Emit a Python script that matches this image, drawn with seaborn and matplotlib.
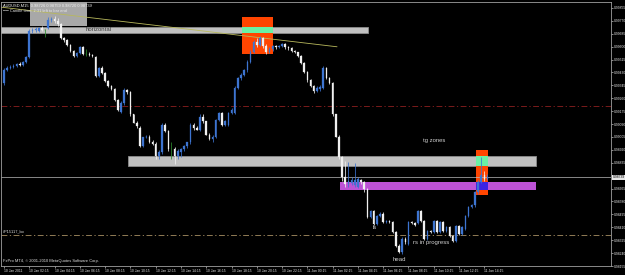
import numpy as np
import pandas as pd
import matplotlib
matplotlib.use("Agg")
import matplotlib.pyplot as plt
from matplotlib.patches import Rectangle
import seaborn as sns

# ---------------- data (AUDUSD, M15) ----------------
opens = [0.99363, 0.99448, 0.99461, 0.99467, 0.99474, 0.99487, 0.99481, 0.99500, 0.99533, 0.99704,
         0.99710, 0.99704, 0.99723, 0.99710, 0.99723, 0.99776, 0.99782, 0.99769, 0.99750, 0.99658,
         0.99645, 0.99612, 0.99572, 0.99540, 0.99559, 0.99599, 0.99553, 0.99553, 0.99546, 0.99533,
         0.99408, 0.99461, 0.99428, 0.99376, 0.99343, 0.99323, 0.99251, 0.99172, 0.99231, 0.99317,
         0.99303, 0.99153, 0.99100, 0.99067, 0.98943, 0.99002, 0.99008, 0.98969, 0.98956, 0.98877,
         0.98903, 0.99087, 0.99041, 0.98923, 0.98923, 0.98877, 0.98903, 0.98923, 0.98943, 0.98969,
         0.99087, 0.99067, 0.99054, 0.99139, 0.99107, 0.99021, 0.98989, 0.99002, 0.99120, 0.99166,
         0.99087, 0.99087, 0.99166, 0.99166, 0.99330, 0.99395, 0.99415, 0.99448, 0.99500, 0.99566,
         0.99631, 0.99612, 0.99658, 0.99605, 0.99566, 0.99586, 0.99605, 0.99599, 0.99605, 0.99618,
         0.99599, 0.99592, 0.99572, 0.99566, 0.99540, 0.99494, 0.99435, 0.99382, 0.99343, 0.99310,
         0.99323, 0.99330, 0.99461, 0.99395, 0.99363, 0.99153, 0.99008, 0.98871, 0.98739, 0.98693,
         0.98700, 0.98687, 0.98674, 0.98720, 0.98706, 0.98661, 0.98477, 0.98516, 0.98431, 0.98484,
         0.98497, 0.98444, 0.98451, 0.98444, 0.98378, 0.98287, 0.98247, 0.98333, 0.98300, 0.98444,
         0.98438, 0.98438, 0.98516, 0.98451, 0.98333, 0.98385, 0.98378, 0.98451, 0.98378, 0.98444,
         0.98385, 0.98411, 0.98352, 0.98320, 0.98418, 0.98365, 0.98398, 0.98484, 0.98543, 0.98556,
         0.98641, 0.98706, 0.98752, 0.98726]
highs = [0.99461, 0.99474, 0.99481, 0.99487, 0.99494, 0.99500, 0.99507, 0.99540, 0.99717, 0.99723,
         0.99730, 0.99730, 0.99736, 0.99717, 0.99795, 0.99795, 0.99802, 0.99789, 0.99756, 0.99664,
         0.99651, 0.99618, 0.99579, 0.99566, 0.99605, 0.99605, 0.99586, 0.99566, 0.99553, 0.99540,
         0.99467, 0.99474, 0.99435, 0.99382, 0.99349, 0.99330, 0.99258, 0.99244, 0.99330, 0.99323,
         0.99310, 0.99159, 0.99107, 0.99074, 0.99008, 0.99015, 0.99015, 0.98982, 0.98969, 0.98916,
         0.99100, 0.99094, 0.99048, 0.98975, 0.98936, 0.98923, 0.98930, 0.98949, 0.98975, 0.99094,
         0.99094, 0.99074, 0.99153, 0.99153, 0.99113, 0.99028, 0.99015, 0.99126, 0.99172, 0.99172,
         0.99120, 0.99172, 0.99199, 0.99343, 0.99402, 0.99428, 0.99454, 0.99513, 0.99579, 0.99645,
         0.99658, 0.99671, 0.99664, 0.99618, 0.99599, 0.99612, 0.99612, 0.99612, 0.99625, 0.99625,
         0.99605, 0.99599, 0.99579, 0.99566, 0.99546, 0.99500, 0.99441, 0.99389, 0.99349, 0.99343,
         0.99349, 0.99474, 0.99467, 0.99402, 0.99369, 0.99159, 0.99015, 0.98877, 0.98844, 0.98838,
         0.98739, 0.98831, 0.98739, 0.98726, 0.98713, 0.98667, 0.98523, 0.98523, 0.98490, 0.98510,
         0.98510, 0.98457, 0.98457, 0.98451, 0.98385, 0.98300, 0.98346, 0.98346, 0.98451, 0.98451,
         0.98444, 0.98523, 0.98523, 0.98457, 0.98392, 0.98392, 0.98457, 0.98457, 0.98451, 0.98451,
         0.98418, 0.98418, 0.98359, 0.98424, 0.98424, 0.98418, 0.98490, 0.98549, 0.98562, 0.98647,
         0.98720, 0.98871, 0.98779, 0.98759]
lows = [0.99349, 0.99441, 0.99454, 0.99461, 0.99467, 0.99474, 0.99474, 0.99494, 0.99527, 0.99691,
        0.99697, 0.99697, 0.99704, 0.99664, 0.99717, 0.99763, 0.99756, 0.99736, 0.99651, 0.99631,
        0.99605, 0.99566, 0.99533, 0.99533, 0.99553, 0.99546, 0.99540, 0.99540, 0.99533, 0.99402,
        0.99402, 0.99422, 0.99369, 0.99336, 0.99317, 0.99244, 0.99179, 0.99166, 0.99218, 0.99290,
        0.99146, 0.99094, 0.99067, 0.98936, 0.98936, 0.98995, 0.98962, 0.98949, 0.98857, 0.98857,
        0.98890, 0.99035, 0.98910, 0.98857, 0.98825, 0.98857, 0.98871, 0.98910, 0.98930, 0.98956,
        0.99054, 0.99048, 0.99041, 0.99100, 0.99015, 0.98982, 0.98975, 0.98995, 0.99113, 0.99080,
        0.99080, 0.99080, 0.99153, 0.99159, 0.99323, 0.99382, 0.99408, 0.99435, 0.99494, 0.99559,
        0.99599, 0.99605, 0.99592, 0.99553, 0.99559, 0.99572, 0.99586, 0.99592, 0.99599, 0.99586,
        0.99579, 0.99566, 0.99559, 0.99533, 0.99487, 0.99428, 0.99369, 0.99336, 0.99297, 0.99303,
        0.99310, 0.99323, 0.99389, 0.99356, 0.99146, 0.99002, 0.98857, 0.98713, 0.98674, 0.98674,
        0.98687, 0.98674, 0.98667, 0.98693, 0.98641, 0.98470, 0.98470, 0.98424, 0.98424, 0.98477,
        0.98438, 0.98438, 0.98438, 0.98372, 0.98280, 0.98241, 0.98234, 0.98300, 0.98293, 0.98431,
        0.98418, 0.98431, 0.98444, 0.98326, 0.98326, 0.98372, 0.98372, 0.98372, 0.98372, 0.98378,
        0.98378, 0.98346, 0.98313, 0.98313, 0.98359, 0.98359, 0.98392, 0.98477, 0.98536, 0.98543,
        0.98628, 0.98700, 0.98713, 0.98720]
closes = [0.99448, 0.99461, 0.99467, 0.99474, 0.99487, 0.99481, 0.99500, 0.99533, 0.99704, 0.99710,
          0.99717, 0.99723, 0.99710, 0.99710, 0.99776, 0.99782, 0.99769, 0.99750, 0.99658, 0.99645,
          0.99612, 0.99572, 0.99540, 0.99559, 0.99599, 0.99553, 0.99553, 0.99546, 0.99540, 0.99408,
          0.99461, 0.99428, 0.99376, 0.99343, 0.99323, 0.99251, 0.99185, 0.99231, 0.99317, 0.99303,
          0.99153, 0.99100, 0.99074, 0.98943, 0.99002, 0.99008, 0.98969, 0.98956, 0.98877, 0.98903,
          0.99087, 0.99041, 0.98923, 0.98923, 0.98877, 0.98910, 0.98923, 0.98943, 0.98969, 0.99087,
          0.99067, 0.99054, 0.99139, 0.99107, 0.99021, 0.98989, 0.99008, 0.99120, 0.99166, 0.99087,
          0.99107, 0.99166, 0.99185, 0.99330, 0.99395, 0.99415, 0.99448, 0.99500, 0.99566, 0.99631,
          0.99612, 0.99658, 0.99605, 0.99566, 0.99586, 0.99605, 0.99599, 0.99605, 0.99618, 0.99599,
          0.99592, 0.99572, 0.99566, 0.99540, 0.99494, 0.99435, 0.99382, 0.99343, 0.99310, 0.99330,
          0.99336, 0.99461, 0.99395, 0.99363, 0.99153, 0.99008, 0.98871, 0.98739, 0.98693, 0.98713,
          0.98720, 0.98720, 0.98726, 0.98706, 0.98661, 0.98477, 0.98516, 0.98431, 0.98484, 0.98497,
          0.98444, 0.98451, 0.98444, 0.98378, 0.98287, 0.98247, 0.98333, 0.98313, 0.98444, 0.98438,
          0.98424, 0.98516, 0.98451, 0.98333, 0.98385, 0.98378, 0.98451, 0.98378, 0.98444, 0.98385,
          0.98411, 0.98352, 0.98320, 0.98418, 0.98365, 0.98411, 0.98484, 0.98543, 0.98556, 0.98641,
          0.98706, 0.98752, 0.98726, 0.98739]

x_tick_labels = ["10 Jan 2011", "10 Jan 02:15", "10 Jan 04:15", "10 Jan 06:15", "10 Jan 08:15",
                 "10 Jan 10:15", "10 Jan 12:15", "10 Jan 14:15", "10 Jan 16:15", "10 Jan 18:15",
                 "10 Jan 20:15", "10 Jan 22:15", "11 Jan 00:15", "11 Jan 02:15", "11 Jan 04:15",
                 "11 Jan 06:15", "11 Jan 08:15", "11 Jan 10:15", "11 Jan 12:15", "11 Jan 14:15"]
y_ticks = [0.99855, 0.99770, 0.99685, 0.99600, 0.99515, 0.99430, 0.99345, 0.99260, 0.99175,
           0.99090, 0.99005, 0.98920, 0.98835, 0.98750, 0.98665, 0.98580, 0.98495, 0.98410,
           0.98325, 0.98240, 0.98155]

# chart objects: (bar_from, bar_to, price_low, price_high)
grey_box_top = (8.2, 26.3, 0.99736, 0.99900)
band_horizontal = (-1.5, 115.2, 0.99689, 0.99732)
orange_top = (75.3, 85.1, 0.99553, 0.99795)
band_lower = (39.2, 168.4, 0.98811, 0.98877)
band_magenta = (106.3, 168.4, 0.98654, 0.98706)
orange_right = (149.4, 153.2, 0.98621, 0.98916)
trend_bars = [-1.3, 105.4]
trend_prices = [0.99861, 0.99599]
red_level = 0.99212
pivot_level = 0.98359

# ---------------- style ----------------
sns.set_theme(style="dark", rc={"axes.facecolor": "black", "figure.facecolor": "black",
                                "axes.edgecolor": "#a0a0a0", "axes.grid": False})
plt.rcParams['font.family'] = ['Liberation Sans', 'DejaVu Sans']

df = pd.DataFrame({"open": opens, "high": highs, "low": lows, "close": closes})
df["bar"] = np.arange(len(df))

BLUE = "#3d74d0"
WHITE = "#f0f0f0"
DOJI = "#2e8b2e"
df["color"] = np.where(df["close"] > df["open"], BLUE,
                       np.where(df["close"] < df["open"], WHITE, DOJI))

fig = plt.figure(figsize=(6.25, 2.75), dpi=100)
ax = fig.add_axes([1 / 625, 9 / 275, 610 / 625, 264 / 275])
ax.set_facecolor("black")
ax.set_xlim(-0.95, 192.1)
ax.set_ylim(0.98162, 0.99894)


def rect(r, color, z=1, ec=None, lw=0):
    x0, x1, y0, y1 = r
    ax.add_patch(Rectangle((x0, y0), x1 - x0, y1 - y0, facecolor=color,
                           edgecolor=ec if ec else color, linewidth=lw, zorder=z))


def inter(a, b):
    return (max(a[0], b[0]), min(a[1], b[1]), max(a[2], b[2]), min(a[3], b[3]))


rect(grey_box_top, "#a8a8a8", 1)
rect(band_horizontal, "#c0c0c0", 1, "#8c8c8c", 0.6)
rect(band_lower, "#c0c0c0", 1, "#8c8c8c", 0.6)
rect(band_magenta, "#bd52d6", 1)
rect(orange_top, "#ff4500", 1.2)
rect(orange_right, "#ff4500", 1.2)
MINT = "#6af0a4"
rect(inter(orange_top, band_horizontal), MINT, 1.4)
rect(inter(orange_right, band_lower), MINT, 1.4)
rect(inter(orange_right, band_magenta), "#3c22e2", 1.4)

# level lines
ax.axhline(red_level, color="#8e2020", lw=0.6, ls=(0, (7, 3, 1.5, 3)), zorder=1.6)
ax.axhline(pivot_level, color="#a89064", lw=0.6, ls=(0, (7, 3, 1.5, 3)), zorder=1.6)
ax.axhline(closes[-1], color="#bdbdbd", lw=0.5, zorder=1.6)
ax.plot(trend_bars, trend_prices, color="#b8b85c", lw=0.6, zorder=2.5)

# candles
ax.vlines(df["bar"], df["low"], df["high"], colors=df["color"], lw=0.55, zorder=3)
body = (df["close"] - df["open"]).abs()
ax.bar(df["bar"], np.maximum(body, 0.000012), bottom=np.minimum(df["open"], df["close"]),
       width=0.5, color=df["color"], edgecolor=df["color"], linewidth=0.2, zorder=3.2)

# annotations
tc = "#d0d0d0"
ax.text(25.9, 0.99710, "horizontal", color="#3c3c3c", fontsize=4.3, va="center", ha="left", zorder=5)
ax.text(132.6, 0.98982, "tg zones", color=tc, fontsize=4.2, va="center", ha="left", zorder=5)
ax.text(116.6, 0.98411, "ls", color=tc, fontsize=4.2, va="center", ha="left", zorder=5)
ax.text(129.4, 0.98313, "rs in progress", color=tc, fontsize=4.3, va="center", ha="left", zorder=5)
ax.text(123.1, 0.98195, "head", color=tc, fontsize=4.3, va="center", ha="left", zorder=5)
ax.text(-0.4, pivot_level + 0.00022, "#P15117_bo", color="#e0e0e0", fontsize=2.8, va="center",
        ha="left", zorder=5)
ax.text(0.003, 0.012, "FxPro MT4, \u00a9 2001-2010 MetaQuotes Software Corp.", color="#e0e0e0",
        fontsize=2.9, transform=ax.transAxes, va="bottom", ha="left", zorder=5)
ax.text(0.003, 0.994, "AUDUSD,M15  %.5f %.5f %.5f %.5f" % (opens[-1], highs[-1], lows[-1], closes[-1]),
        color="#f0f0f0", fontsize=2.9, transform=ax.transAxes, va="top", ha="left", zorder=5)
ax.text(0.003, 0.975, "\u2500\u2500 Candle time: 2:31 left to bar end", color="#e8e8e8",
        fontsize=2.9, transform=ax.transAxes, va="top", ha="left", zorder=5)

# axes
ax.yaxis.tick_right()
ax.set_yticks(y_ticks)
# the label under the current-price box is hidden, as on the terminal
ax.set_yticklabels(["" if abs(v - closes[-1]) < 0.0003 else "%.5f" % v for v in y_ticks])
ax.set_xticks(np.arange(0, 8 * len(x_tick_labels), 8))
ax.set_xticklabels(x_tick_labels, ha="left")
ax.tick_params(axis="both", which="both", direction="out", length=1.5, width=0.5,
               color="#c0c0c0", labelcolor="#e6e6e6", labelsize=2.45, pad=0.5,
               bottom=True, right=True, left=False)
for s in ax.spines.values():
    s.set_color("#a0a0a0")
    s.set_linewidth(0.6)
ax.set_xlabel("")
ax.set_ylabel("")

# current price label box
ax.text(1.0025, closes[-1], "%.5f" % closes[-1], transform=ax.get_yaxis_transform(),
        fontsize=2.45, color="black", va="center", ha="left", clip_on=False, zorder=10,
        bbox=dict(boxstyle="square,pad=0.15", fc="#e8e8e8", ec="#e8e8e8", lw=0))

fig.savefig("out.png", dpi=100, facecolor="black")
